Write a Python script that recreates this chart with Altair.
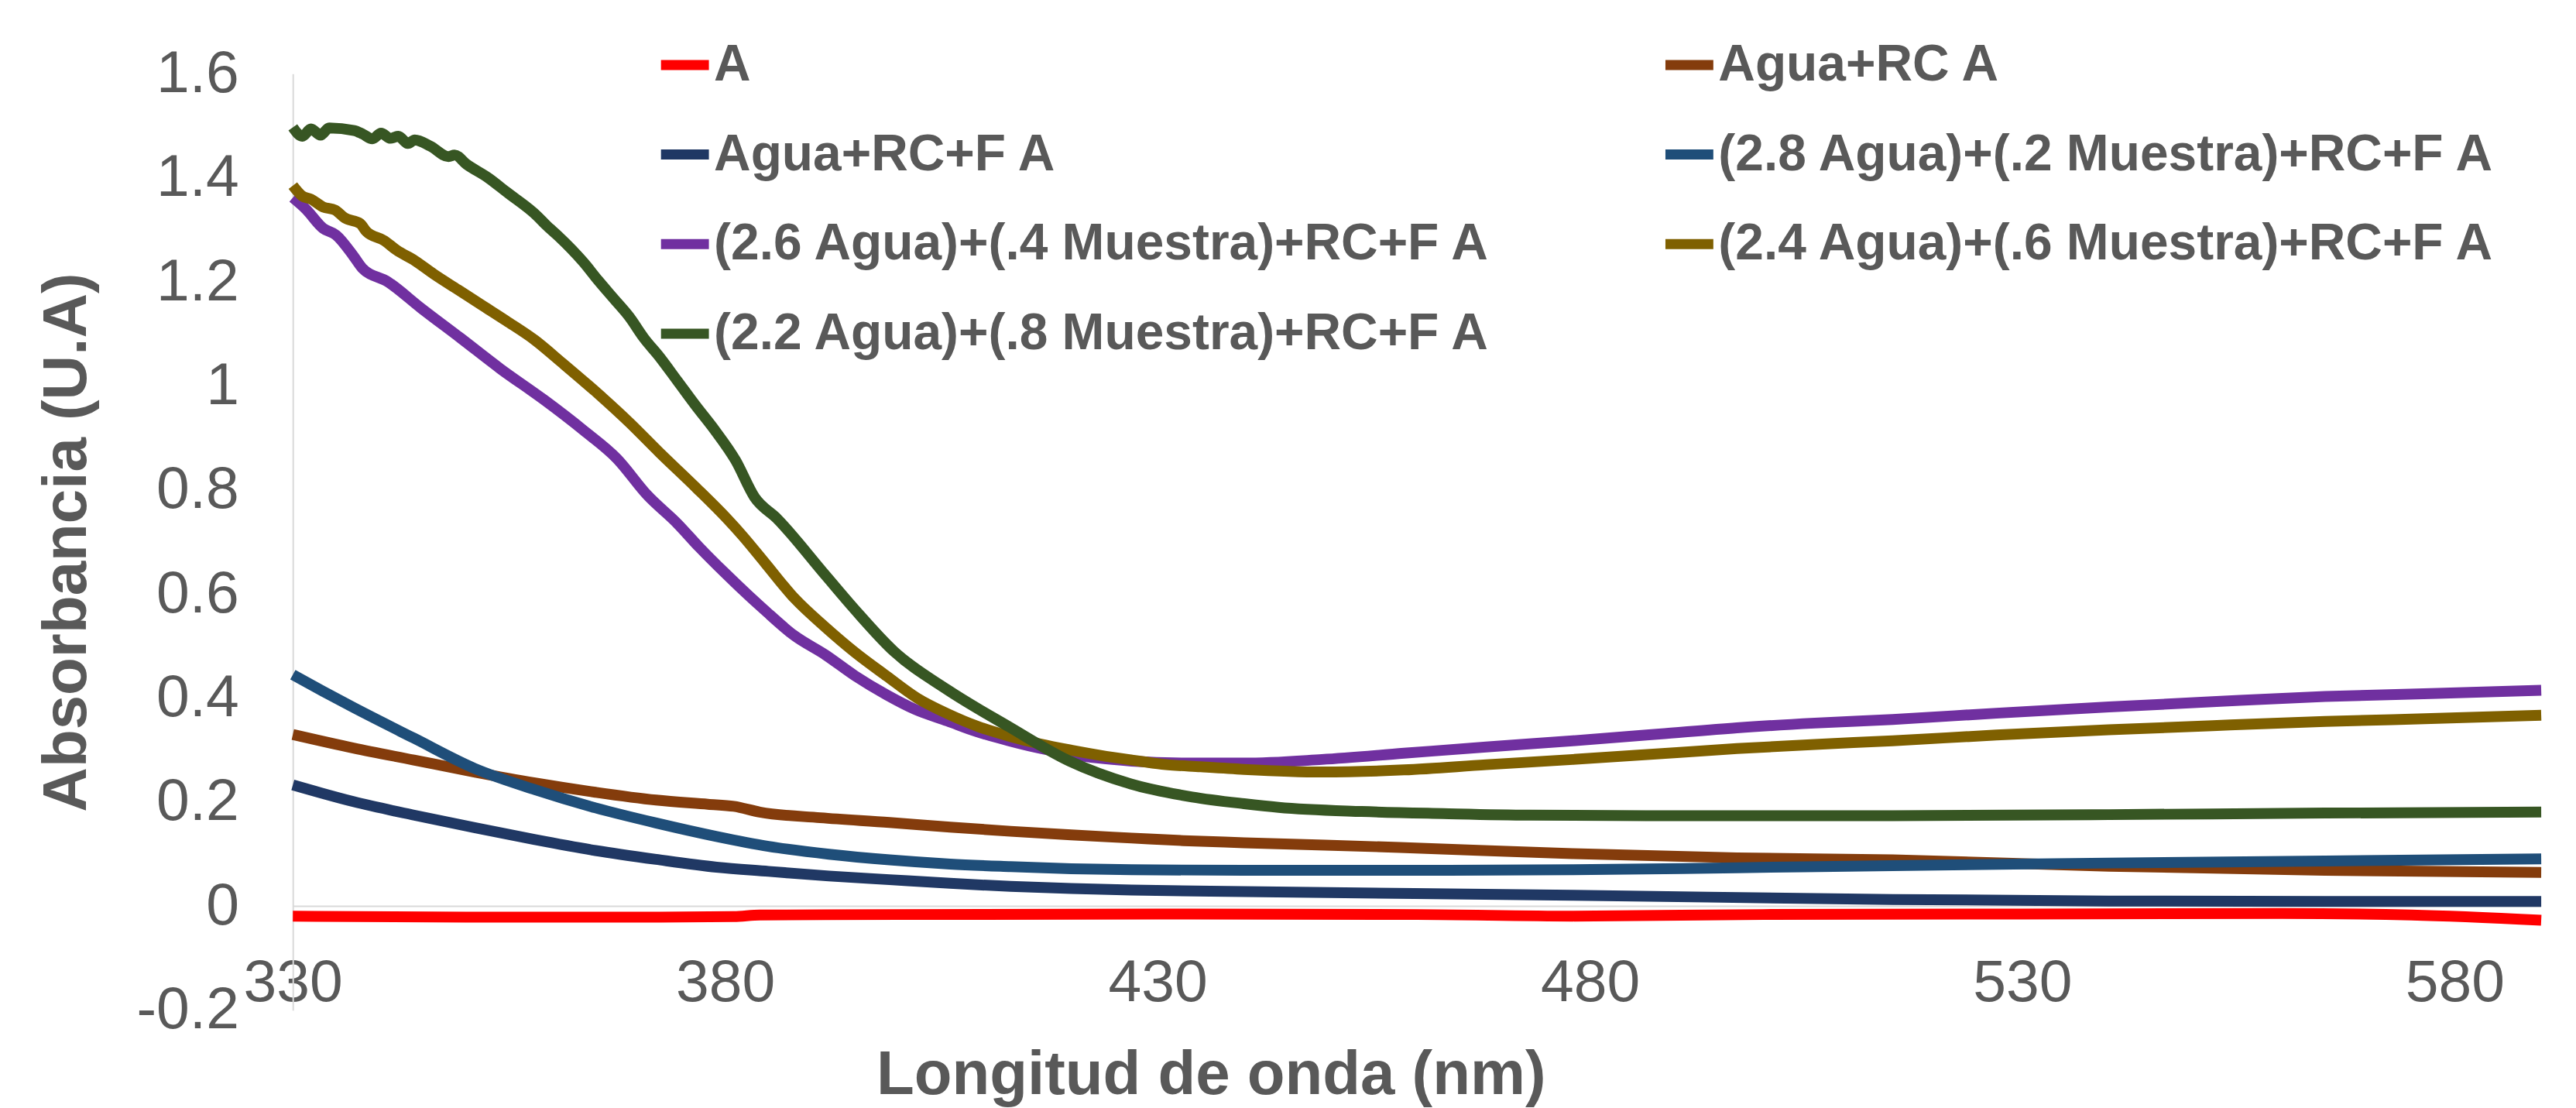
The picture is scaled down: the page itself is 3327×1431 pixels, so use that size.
import altair as alt
import pandas as pd

series_names = [
    "A",
    "Agua+RC A",
    "Agua+RC+F A",
    "(2.8 Agua)+(.2 Muestra)+RC+F A",
    "(2.6 Agua)+(.4 Muestra)+RC+F A",
    "(2.4 Agua)+(.6 Muestra)+RC+F A",
    "(2.2 Agua)+(.8 Muestra)+RC+F A",
]
series_colors = ["#FF0000", "#843C0C", "#203864", "#1F4E79", "#7030A0", "#7F6000", "#375623"]

# legend is filled column by column (4 rows, 2 columns); this order shows it row by row
legend_order = [0, 2, 4, 6, 1, 3, 5]

red_nm = [330, 350, 370, 381, 384, 400, 430, 460, 478, 500, 530, 560, 575, 590]
red_abs = [-0.019, -0.021, -0.021, -0.020, -0.017, -0.016, -0.015, -0.016, -0.019, -0.016, -0.015, -0.014, -0.017, -0.027]

brown_nm = [330, 337, 344, 351, 358, 365, 372, 378, 381, 384, 391, 399, 406, 413, 420, 427, 433, 440, 458, 478, 497, 515, 540, 565, 590]
brown_abs = [0.330, 0.304, 0.281, 0.258, 0.237, 0.219, 0.204, 0.196, 0.192, 0.181, 0.170, 0.161, 0.152, 0.144, 0.137, 0.131, 0.126, 0.122, 0.113, 0.101, 0.093, 0.089, 0.077, 0.069, 0.065]

navy_nm = [330, 337, 344, 351, 358, 365, 372, 379, 385, 392, 399, 406, 413, 420, 427, 440, 478, 515, 540, 565, 590]
navy_abs = [0.233, 0.201, 0.175, 0.151, 0.128, 0.107, 0.090, 0.075, 0.067, 0.058, 0.051, 0.044, 0.038, 0.034, 0.031, 0.028, 0.021, 0.013, 0.010, 0.009, 0.009]

blue_nm = [330, 333.5, 337, 344, 351, 358, 365, 372, 379, 385, 392, 399, 406, 413, 420, 427, 440, 458, 478, 497, 515, 540, 565, 590]
blue_abs = [0.445, 0.413, 0.382, 0.323, 0.265, 0.224, 0.189, 0.160, 0.134, 0.115, 0.100, 0.089, 0.081, 0.076, 0.072, 0.070, 0.069, 0.069, 0.070, 0.074, 0.078, 0.083, 0.087, 0.091]

purple_nm = [330, 331.5, 333.5, 335, 337, 338, 341, 344.8, 349.4, 354, 359, 363.6, 367.5, 371, 374.5, 377, 380, 384.5, 388, 391.6, 395, 398.7, 402, 405.7, 409, 412.8, 416, 419.8, 423, 427, 434, 440, 449, 458.5, 468, 478, 488, 497, 506, 515, 527, 540, 552, 565, 578, 590]
purple_abs = [1.362, 1.340, 1.303, 1.290, 1.250, 1.227, 1.200, 1.150, 1.092, 1.033, 0.974, 0.915, 0.860, 0.790, 0.735, 0.690, 0.640, 0.570, 0.520, 0.483, 0.443, 0.406, 0.378, 0.356, 0.336, 0.318, 0.305, 0.293, 0.285, 0.279, 0.275, 0.275, 0.282, 0.294, 0.306, 0.318, 0.331, 0.343, 0.352, 0.359, 0.371, 0.383, 0.393, 0.403, 0.409, 0.415]

gold_nm = [330, 331.1, 332.1, 333.5, 334.9, 336.0, 337.8, 338.5, 340.6, 342.0, 344.1, 346.3, 349.1, 351.9, 354.7, 358, 361.1, 365.3, 368.9, 372.4, 376.6, 380.2, 382, 384.6, 388, 391.6, 395, 398.7, 402.2, 405.7, 409.3, 412.8, 416.4, 420, 423.4, 427, 430.5, 435, 440, 449, 458.5, 468, 478, 488, 497, 506, 515, 527, 540, 552, 565, 578, 590]
gold_abs = [1.385, 1.365, 1.359, 1.344, 1.338, 1.323, 1.312, 1.297, 1.279, 1.261, 1.241, 1.215, 1.185, 1.155, 1.125, 1.088, 1.045, 0.985, 0.930, 0.872, 0.805, 0.745, 0.712, 0.660, 0.592, 0.536, 0.488, 0.442, 0.400, 0.370, 0.345, 0.327, 0.312, 0.300, 0.290, 0.281, 0.273, 0.268, 0.263, 0.258, 0.262, 0.272, 0.282, 0.293, 0.303, 0.311, 0.318, 0.329, 0.339, 0.347, 0.355, 0.361, 0.367]

green_nm = [330, 331.1, 332.1, 333.2, 334.2, 337.1, 338.1, 339.2, 340.2, 341.3, 342.2, 343.3, 344.1, 345.9, 348.0, 348.7, 350.1, 352.6, 354.7, 358.3, 359.3, 360.7, 363.6, 365.3, 367.1, 368.9, 370.6, 372.4, 374.5, 376.6, 378.8, 381.2, 383.4, 386, 391.6, 395, 399.5, 405.7, 412.8, 419.8, 426.9, 434, 440, 444, 453.6, 463, 473, 492, 515, 540, 565, 590]
green_abs = [1.497, 1.480, 1.494, 1.482, 1.496, 1.491, 1.484, 1.475, 1.486, 1.476, 1.480, 1.466, 1.473, 1.461, 1.441, 1.444, 1.426, 1.400, 1.373, 1.326, 1.309, 1.288, 1.238, 1.203, 1.168, 1.133, 1.092, 1.056, 1.009, 0.962, 0.915, 0.857, 0.786, 0.745, 0.636, 0.570, 0.490, 0.416, 0.345, 0.279, 0.235, 0.210, 0.197, 0.190, 0.182, 0.178, 0.175, 0.174, 0.174, 0.176, 0.179, 0.181]

x_ticks = [330, 380, 430, 480, 530, 580]
y_ticks = [-0.2, 0, 0.2, 0.4, 0.6, 0.8, 1.0, 1.2, 1.4, 1.6]

all_series = [
    (red_nm, red_abs),
    (brown_nm, brown_abs),
    (navy_nm, navy_abs),
    (blue_nm, blue_abs),
    (purple_nm, purple_abs),
    (gold_nm, gold_abs),
    (green_nm, green_abs),
]

rows = []
for name, (nms, vals) in zip(series_names, all_series):
    for n, v in zip(nms, vals):
        rows.append({"serie": name, "nm": n, "abs": v})
df = pd.DataFrame(rows)

legend_domain = [series_names[i] for i in legend_order]
legend_range = [series_colors[i] for i in legend_order]

FONT = "Liberation Sans"
GREY = "#595959"

zero_rule = alt.Chart(pd.DataFrame({"k": [0]})).mark_rule(
    color="#d9d9d9", strokeWidth=2
).encode(y=alt.datum(0))

lines = alt.Chart(df).mark_line(strokeWidth=14, interpolate="monotone").encode(
    x=alt.X(
        "nm:Q",
        scale=alt.Scale(domain=[330, 590], nice=False, zero=False),
        axis=alt.Axis(
            values=x_ticks,
            grid=False,
            ticks=False,
            tickSize=0,
            domain=False,
            labelPadding=-12,
            labelBaseline="alphabetic",
            labelFont=FONT,
            labelFontSize=77,
            labelColor=GREY,
            labelFlush=False,
            labelOverlap=False,
            title="Longitud de onda (nm)",
            titleFont=FONT,
            titleFontSize=80,
            titleFontWeight="bold",
            titleColor=GREY,
            titleX=1188,
            titleY=108,
            titleAlign="center",
            titleBaseline="alphabetic",
        ),
    ),
    y=alt.Y(
        "abs:Q",
        scale=alt.Scale(domain=[-0.2, 1.6], nice=False, zero=False),
        axis=alt.Axis(
            values=y_ticks,
            grid=False,
            ticks=False,
            tickSize=0,
            domain=True,
            domainColor="#d9d9d9",
            domainWidth=2,
            labelPadding=70,
            labelFont=FONT,
            labelFontSize=77,
            labelColor=GREY,
            labelExpr="replace(format(datum.value, '~g'), '\u2212', '-')",
            labelFlush=False,
            labelOverlap=False,
            title="Absorbancia (U.A)",
            titleFont=FONT,
            titleFontSize=80,
            titleFontWeight="bold",
            titleColor=GREY,
            titleAngle=270,
            titleX=-292,
            titleY=606,
            titleAlign="center",
            titleBaseline="middle",
        ),
    ),
    color=alt.Color(
        "serie:N",
        scale=alt.Scale(domain=legend_domain, range=legend_range),
        legend=alt.Legend(
            title=None,
            orient="none",
            legendX=470,
            legendY=-49,
            columns=2,
            columnPadding=198,
            rowPadding=45,
            padding=0,
            symbolType="stroke",
            symbolSize=3844,
            symbolStrokeWidth=13,
            labelFont=FONT,
            labelFontSize=66,
            labelFontWeight="bold",
            labelColor=GREY,
            labelOffset=0,
            labelLimit=0,
        ),
    ),
)

chart = alt.layer(zero_rule, lines).properties(
    width=2910,
    height=1212,
    autosize=alt.AutoSizeParams(type="none"),
    padding={"left": 371, "top": 86, "right": 37, "bottom": 125},
    background="white",
).configure_view(stroke=None)

chart.save("out.html", embed_options={"renderer": "svg", "actions": False})
